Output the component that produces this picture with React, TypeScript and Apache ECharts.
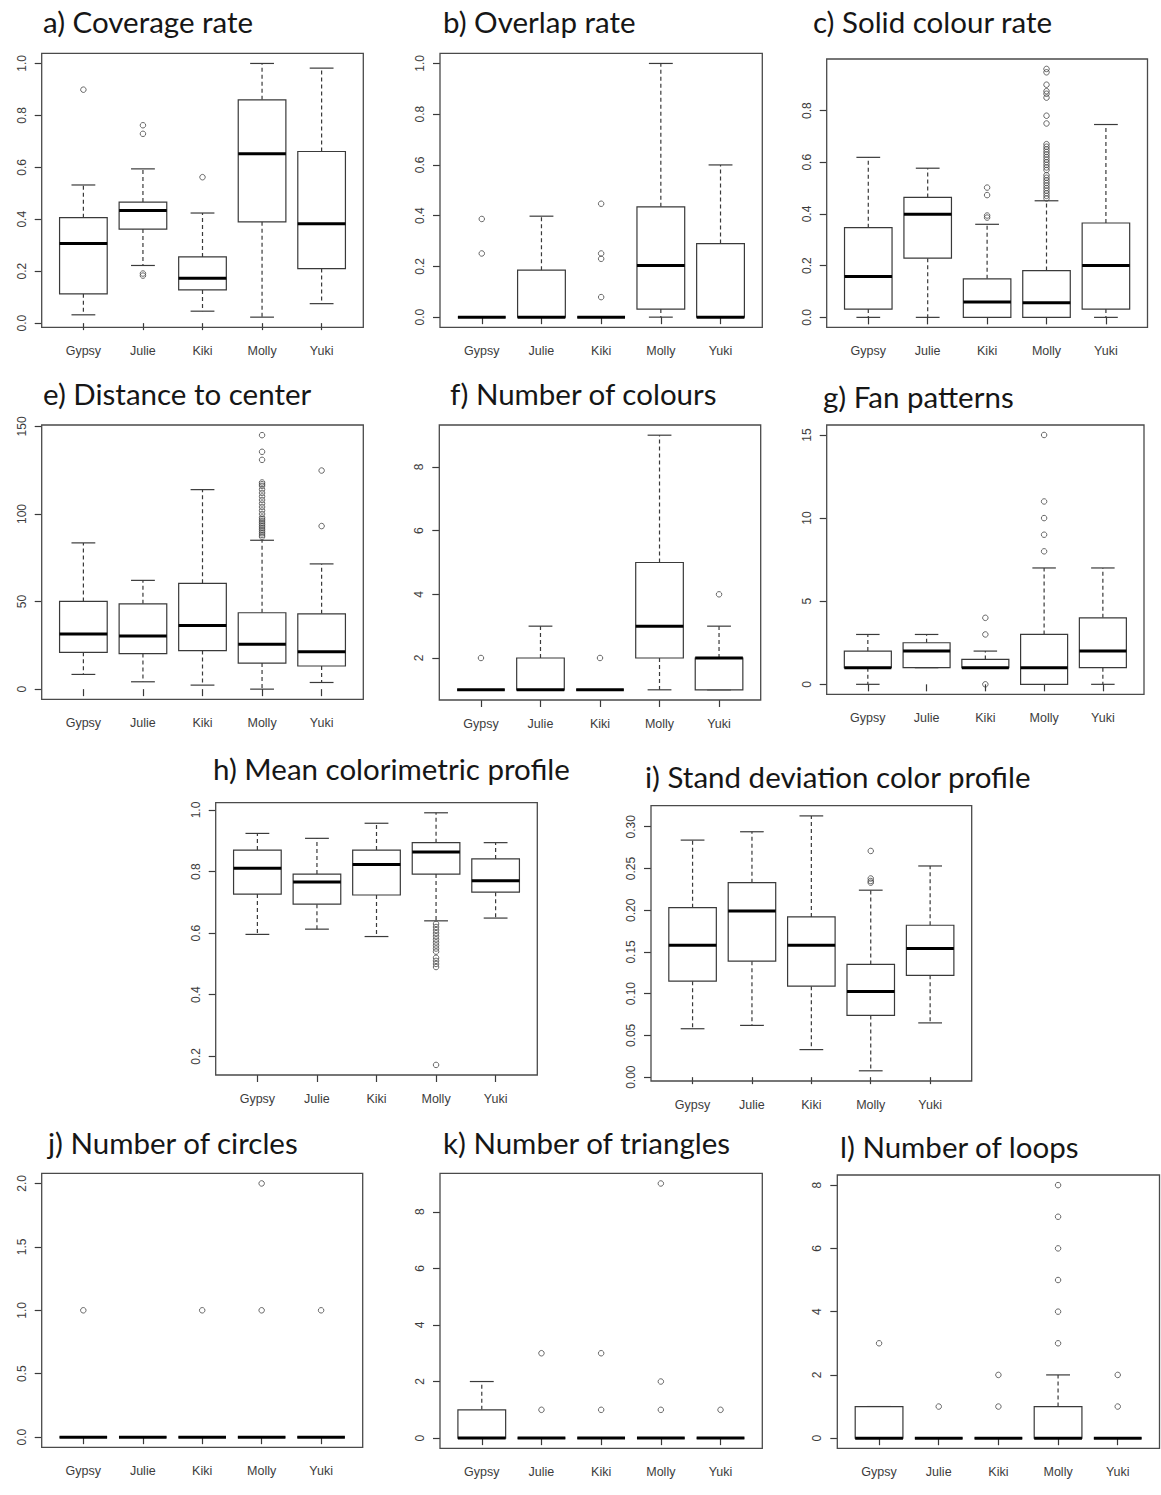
import React, { useEffect, useRef } from "react";
import * as echarts from "echarts";

const animals = ["Gypsy", "Julie", "Kiki", "Molly", "Yuki"];

// Box statistics per animal: [min (lower whisker), Q1, median, Q3, max (upper whisker)]
const coverageBoxes = [
  [0.032, 0.113, 0.307, 0.406, 0.532],
  [0.222, 0.362, 0.434, 0.466, 0.594],
  [0.046, 0.128, 0.173, 0.255, 0.424],
  [0.023, 0.39, 0.652, 0.86, 1.0],
  [0.075, 0.21, 0.383, 0.661, 0.982],
];
// Outliers: [animal index, value]
const coverageOutliers = [
  [0, 0.899], [1, 0.762], [1, 0.729], [1, 0.191], [1, 0.183], [2, 0.562],
];
const coverageTicks = [0, 0.2, 0.4, 0.6, 0.8, 1.0];

const overlapBoxes = [
  [0, 0, 0, 0, 0],
  [0, 0, 0, 0.185, 0.398],
  [0, 0, 0, 0, 0],
  [0, 0.032, 0.204, 0.435, 1.0],
  [0, 0, 0, 0.29, 0.6],
];
const overlapOutliers = [
  [0, 0.387], [0, 0.251], [2, 0.447], [2, 0.251], [2, 0.23], [2, 0.079],
];
const overlapTicks = [0, 0.2, 0.4, 0.6, 0.8, 1.0];

const solidBoxes = [
  [0, 0.032, 0.158, 0.347, 0.619],
  [0, 0.229, 0.399, 0.464, 0.577],
  [0, 0, 0.059, 0.149, 0.36],
  [0, 0, 0.057, 0.181, 0.451],
  [0, 0.032, 0.201, 0.365, 0.746],
];
const solidOutliers = [
  [2, 0.502], [2, 0.473], [2, 0.394], [2, 0.386],
  [3, 0.46], [3, 0.47], [3, 0.48], [3, 0.49], [3, 0.5], [3, 0.51], [3, 0.52],
  [3, 0.53], [3, 0.54], [3, 0.55], [3, 0.57], [3, 0.58], [3, 0.59], [3, 0.6],
  [3, 0.61], [3, 0.62], [3, 0.63], [3, 0.64], [3, 0.65], [3, 0.66], [3, 0.67],
  [3, 0.75], [3, 0.78], [3, 0.85], [3, 0.865], [3, 0.875], [3, 0.9], [3, 0.948], [3, 0.961],
];
const solidTicks = [0, 0.2, 0.4, 0.6, 0.8];

const distanceBoxes = [
  [8.4, 21.0, 31.5, 50.1, 83.5],
  [4.2, 20.3, 30.4, 48.7, 62.1],
  [2.3, 22.0, 36.3, 60.4, 113.9],
  [0, 14.9, 25.6, 43.6, 85.0],
  [3.8, 13.2, 21.4, 43.0, 71.5],
];
const distanceOutliers = [
  [3, 87], [3, 88], [3, 89], [3, 90], [3, 91], [3, 92], [3, 93], [3, 94],
  [3, 95], [3, 96], [3, 97], [3, 98], [3, 100], [3, 102], [3, 104], [3, 106],
  [3, 108], [3, 110], [3, 112], [3, 114], [3, 116], [3, 117], [3, 118],
  [3, 130.9], [3, 135.5], [3, 145.0],
  [4, 93.1], [4, 124.8],
];
const distanceTicks = [0, 50, 100, 150];

const coloursBoxes = [
  [1, 1, 1, 1, 1],
  [1, 1, 1, 2, 3],
  [1, 1, 1, 1, 1],
  [1, 2, 3, 5, 9],
  [1, 1, 2, 2, 3],
];
const coloursOutliers = [[0, 2], [2, 2], [4, 4]];
const coloursTicks = [2, 4, 6, 8];

const fanBoxes = [
  [0, 1, 1, 2, 3],
  [1, 1, 2, 2.5, 3],
  [1, 1, 1, 1.5, 2],
  [0, 0, 1, 3, 7],
  [0, 1, 2, 4, 7],
];
const fanOutliers = [
  [2, 0], [2, 3], [2, 4], [3, 8], [3, 9], [3, 10], [3, 11], [3, 15],
];
const fanTicks = [0, 5, 10, 15];

const meanColBoxes = [
  [0.596, 0.727, 0.811, 0.87, 0.924],
  [0.613, 0.694, 0.766, 0.792, 0.908],
  [0.589, 0.724, 0.823, 0.87, 0.957],
  [0.64, 0.792, 0.864, 0.894, 0.991],
  [0.649, 0.733, 0.77, 0.841, 0.894],
];
const meanColOutliers = [
  [3, 0.49], [3, 0.5], [3, 0.51], [3, 0.52], [3, 0.54], [3, 0.55], [3, 0.56],
  [3, 0.57], [3, 0.58], [3, 0.59], [3, 0.6], [3, 0.61], [3, 0.62], [3, 0.63],
  [3, 0.172],
];
const meanColTicks = [0.2, 0.4, 0.6, 0.8, 1.0];

const sdColBoxes = [
  [0.058, 0.115, 0.158, 0.203, 0.284],
  [0.062, 0.139, 0.199, 0.233, 0.294],
  [0.033, 0.109, 0.158, 0.192, 0.313],
  [0.0076, 0.074, 0.1025, 0.135, 0.224],
  [0.065, 0.122, 0.154, 0.182, 0.253],
];
const sdColOutliers = [[3, 0.271], [3, 0.238], [3, 0.235], [3, 0.233]];
const sdColTicks = [0, 0.05, 0.1, 0.15, 0.2, 0.25, 0.3];

const circlesBoxes = [
  [0, 0, 0, 0, 0],
  [0, 0, 0, 0, 0],
  [0, 0, 0, 0, 0],
  [0, 0, 0, 0, 0],
  [0, 0, 0, 0, 0],
];
const circlesOutliers = [[0, 1], [2, 1], [3, 1], [3, 2], [4, 1]];
const circlesTicks = [0, 0.5, 1.0, 1.5, 2.0];

const trianglesBoxes = [
  [0, 0, 0, 1, 2],
  [0, 0, 0, 0, 0],
  [0, 0, 0, 0, 0],
  [0, 0, 0, 0, 0],
  [0, 0, 0, 0, 0],
];
const trianglesOutliers = [
  [1, 1], [1, 3], [2, 1], [2, 3], [3, 1], [3, 2], [3, 9], [4, 1],
];
const trianglesTicks = [0, 2, 4, 6, 8];

const loopsBoxes = [
  [0, 0, 0, 1, 1],
  [0, 0, 0, 0, 0],
  [0, 0, 0, 0, 0],
  [0, 0, 0, 1, 2],
  [0, 0, 0, 0, 0],
];
const loopsOutliers = [
  [0, 3], [1, 1], [2, 1], [2, 2], [3, 3], [3, 4], [3, 5], [3, 6], [3, 7], [3, 8],
  [4, 1], [4, 2],
];
const loopsTicks = [0, 2, 4, 6, 8];

// Layout (pixel frames: left, top, right, bottom) and title anchors
const panels = [
  { title: "a) Coverage rate", boxes: coverageBoxes, outliers: coverageOutliers, ticks: coverageTicks, dec: 1, frame: [41.7, 53.3, 363.3, 327.3], tpos: [43, 22] },
  { title: "b) Overlap rate", boxes: overlapBoxes, outliers: overlapOutliers, ticks: overlapTicks, dec: 1, frame: [440, 53.3, 762.3, 327.3], tpos: [443, 22] },
  { title: "c) Solid colour rate", boxes: solidBoxes, outliers: solidOutliers, ticks: solidTicks, dec: 1, frame: [826.7, 59, 1147.5, 327.3], tpos: [813, 22] },
  { title: "e) Distance to center", boxes: distanceBoxes, outliers: distanceOutliers, ticks: distanceTicks, dec: 0, frame: [41.7, 425, 363.3, 699.3], tpos: [43, 394] },
  { title: "f) Number of colours", boxes: coloursBoxes, outliers: coloursOutliers, ticks: coloursTicks, dec: 0, frame: [439.3, 425, 760.7, 700], tpos: [450, 394] },
  { title: "g) Fan patterns", boxes: fanBoxes, outliers: fanOutliers, ticks: fanTicks, dec: 0, frame: [826.7, 425, 1144, 694.3], tpos: [823, 397] },
  { title: "h) Mean colorimetric profile", boxes: meanColBoxes, outliers: meanColOutliers, ticks: meanColTicks, dec: 1, frame: [215.7, 802.7, 537.3, 1075], tpos: [213, 769] },
  { title: "i) Stand deviation color profile", boxes: sdColBoxes, outliers: sdColOutliers, ticks: sdColTicks, dec: 2, frame: [651, 805.7, 971.7, 1081], tpos: [645, 777] },
  { title: "j) Number of circles", boxes: circlesBoxes, outliers: circlesOutliers, ticks: circlesTicks, dec: 1, frame: [41.7, 1173.3, 362.7, 1447.3], tpos: [48, 1143] },
  { title: "k) Number of triangles", boxes: trianglesBoxes, outliers: trianglesOutliers, ticks: trianglesTicks, dec: 0, frame: [440, 1173.3, 762.3, 1448.3], tpos: [443, 1143] },
  { title: "l) Number of loops", boxes: loopsBoxes, outliers: loopsOutliers, ticks: loopsTicks, dec: 0, frame: [837.3, 1175, 1159.5, 1448.3], tpos: [840, 1147] },
];

const LINE = "#3a3a3a";
const LABEL = "#3c3c3c";
const AXIS_FONT = "'Liberation Sans', Arial, sans-serif";
const TITLE_FONT = "Lato, 'Open Sans', sans-serif";

function renderBox(params: any, api: any) {
  const idx = api.value(0);
  const mn = api.value(1);
  const q1 = api.value(2);
  const md = api.value(3);
  const q3 = api.value(4);
  const mx = api.value(5);
  const band = api.size([1, 0])[0];
  const half = band * 0.4;
  const sHalf = band * 0.2;
  const pMin = api.coord([idx, mn]);
  const pQ1 = api.coord([idx, q1]);
  const pMed = api.coord([idx, md]);
  const pQ3 = api.coord([idx, q3]);
  const pMax = api.coord([idx, mx]);
  const cx = pMed[0];
  const solid = { stroke: LINE, lineWidth: 1.2, fill: "none" };
  const dashed = { stroke: LINE, lineWidth: 1.2, fill: "none", lineDash: [4, 3] };
  const children: any[] = [];
  if (mx > q3) {
    children.push({ type: "line", shape: { x1: cx, y1: pQ3[1], x2: cx, y2: pMax[1] }, style: dashed });
  }
  if (mn < q1) {
    children.push({ type: "line", shape: { x1: cx, y1: pQ1[1], x2: cx, y2: pMin[1] }, style: dashed });
  }
  children.push({ type: "line", shape: { x1: cx - sHalf, y1: pMax[1], x2: cx + sHalf, y2: pMax[1] }, style: solid });
  children.push({ type: "line", shape: { x1: cx - sHalf, y1: pMin[1], x2: cx + sHalf, y2: pMin[1] }, style: solid });
  children.push({
    type: "rect",
    shape: { x: cx - half, y: pQ3[1], width: half * 2, height: pQ1[1] - pQ3[1] },
    style: { fill: "#fff", stroke: LINE, lineWidth: 1.2 },
  });
  children.push({
    type: "line",
    shape: { x1: cx - half, y1: pMed[1], x2: cx + half, y2: pMed[1] },
    style: { stroke: "#000", lineWidth: 3 },
  });
  return { type: "group", children };
}

function buildOption() {
  const grid: any[] = [];
  const xAxis: any[] = [];
  const yAxis: any[] = [];
  const series: any[] = [];
  const title: any[] = [];
  const graphic: any[] = [];

  panels.forEach((p, i) => {
    const [l, t, r, b] = p.frame;
    const w = r - l;
    const inset = (w * 0.2) / 5.4;
    let lo = Infinity;
    let hi = -Infinity;
    p.boxes.forEach((bx) => {
      lo = Math.min(lo, bx[0]);
      hi = Math.max(hi, bx[4]);
    });
    p.outliers.forEach((o) => {
      lo = Math.min(lo, o[1]);
      hi = Math.max(hi, o[1]);
    });
    const ext = (hi - lo) * 0.04;

    grid.push({ left: l + inset, top: t, width: w - 2 * inset, height: b - t, containLabel: false });
    xAxis.push({
      type: "category",
      gridIndex: i,
      data: animals,
      boundaryGap: true,
      axisLine: { show: false },
      axisTick: { show: true, alignWithLabel: true, length: 7, lineStyle: { color: LINE, width: 1.2 } },
      axisLabel: { interval: 0, margin: 17, fontSize: 12.5, color: LABEL, fontFamily: AXIS_FONT },
      splitLine: { show: false },
    });
    yAxis.push({
      type: "value",
      gridIndex: i,
      min: lo - ext,
      max: hi + ext,
      offset: inset,
      axisLine: { show: false },
      axisTick: { show: true, length: 7, customValues: p.ticks, lineStyle: { color: LINE, width: 1.2 } },
      axisLabel: {
        customValues: p.ticks,
        rotate: 90,
        margin: 14,
        fontSize: 12,
        color: LABEL,
        fontFamily: AXIS_FONT,
        formatter: (v: number) => Number(v).toFixed(p.dec),
      },
      splitLine: { show: false },
    });
    series.push({
      type: "custom",
      xAxisIndex: i,
      yAxisIndex: i,
      renderItem: renderBox,
      encode: { x: 0, y: [1, 2, 3, 4, 5] },
      data: p.boxes.map((bx, k) => [k, ...bx]),
      z: 2,
    });
    series.push({
      type: "scatter",
      xAxisIndex: i,
      yAxisIndex: i,
      symbol: "circle",
      symbolSize: 5.5,
      itemStyle: { color: "rgba(0,0,0,0)", borderColor: "#444", borderWidth: 1 },
      data: p.outliers.map((o) => [o[0], o[1]]),
      z: 3,
    });
    title.push({
      text: p.title,
      left: p.tpos[0],
      top: p.tpos[1] - 16,
      padding: 0,
      textStyle: { fontSize: 29.5, fontWeight: "normal", fontFamily: TITLE_FONT, color: "#161616" },
    });
    graphic.push({
      type: "rect",
      silent: true,
      z: 5,
      shape: { x: l, y: t, width: w, height: b - t },
      style: { fill: "none", stroke: "#4a4a4a", lineWidth: 1.3 },
    });
  });

  return {
    animation: false,
    backgroundColor: "#ffffff",
    title,
    grid,
    xAxis,
    yAxis,
    series,
    graphic,
  };
}

export default function App() {
  const ref = useRef<HTMLDivElement>(null);
  useEffect(() => {
    if (!ref.current) return;
    const chart = echarts.init(ref.current, null, { renderer: "svg" });
    chart.setOption(buildOption() as any);
    return () => chart.dispose();
  }, []);
  return (
    <div
      ref={ref}
      style={{ position: "absolute", left: 0, top: 0, width: 1161, height: 1495, background: "#fff" }}
    />
  );
}
